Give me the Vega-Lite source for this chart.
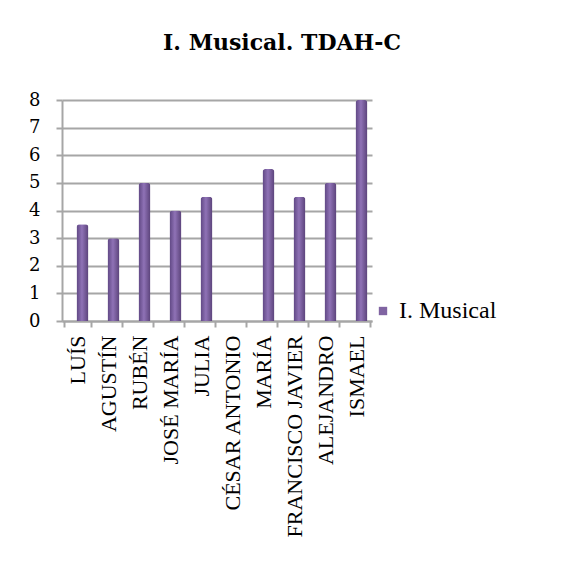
{
  "$schema": "https://vega.github.io/schema/vega-lite/v6.json",
  "width": 310,
  "height": 221,
  "autosize": {"type": "none"},
  "padding": {"left": 62, "top": 100, "right": 189, "bottom": 240},
  "background": "white",
  "title": {
    "text": "I. Musical. TDAH-C",
    "font": "DejaVu Serif",
    "fontSize": 22,
    "fontWeight": "bold",
    "color": "#000000",
    "anchor": "middle",
    "dx": 65,
    "offset": 36
  },
  "data": {
    "values": [
      {"nombre": "LUÍS", "valor": 3.5, "serie": "I. Musical"},
      {"nombre": "AGUSTÍN", "valor": 3, "serie": "I. Musical"},
      {"nombre": "RUBÉN", "valor": 5, "serie": "I. Musical"},
      {"nombre": "JOSÉ MARÍA", "valor": 4, "serie": "I. Musical"},
      {"nombre": "JULIA", "valor": 4.5, "serie": "I. Musical"},
      {"nombre": "CÉSAR ANTONIO", "valor": 0, "serie": "I. Musical"},
      {"nombre": "MARÍA", "valor": 5.5, "serie": "I. Musical"},
      {"nombre": "FRANCISCO JAVIER", "valor": 4.5, "serie": "I. Musical"},
      {"nombre": "ALEJANDRO", "valor": 5, "serie": "I. Musical"},
      {"nombre": "ISMAEL", "valor": 8, "serie": "I. Musical"}
    ]
  },
  "encoding": {
    "x": {
      "field": "nombre",
      "type": "nominal",
      "sort": null,
      "title": null,
      "axis": {
        "labelAngle": -90,
        "labelFont": "Liberation Serif",
        "labelFontSize": 22,
        "labelColor": "#000000",
        "labelPadding": 8,
        "labelLimit": 300,
        "tickBand": "extent",
        "tickSize": 6,
        "tickColor": "#a6a6a6",
        "tickWidth": 2,
        "domainColor": "#a6a6a6",
        "domainWidth": 2,
        "grid": false
      }
    },
    "y": {
      "field": "valor",
      "type": "quantitative",
      "title": null,
      "scale": {"domain": [0, 8]},
      "axis": {
        "values": [0, 1, 2, 3, 4, 5, 6, 7, 8],
        "labelFont": "DejaVu Serif",
        "labelFontSize": 18,
        "labelColor": "#000000",
        "labelPadding": 16,
        "tickSize": 6,
        "tickColor": "#a6a6a6",
        "tickWidth": 2,
        "domainColor": "#a6a6a6",
        "domainWidth": 2,
        "grid": true,
        "gridColor": "#a6a6a6",
        "gridWidth": 2
      }
    }
  },
  "layer": [
    {
      "mark": {
        "type": "bar",
        "size": 12,
        "xOffset": 5,
        "cornerRadiusTopLeft": 3,
        "cornerRadiusTopRight": 3,
        "color": {"gradient": "linear", "x1": 0, "x2": 1, "y1": 0, "y2": 0, "stops": [{"offset": 0, "color": "#5e4682"}, {"offset": 0.45, "color": "#8f72b6"}, {"offset": 1, "color": "#5a4279"}]}
      }
    },
    {
      "mark": {"type": "bar", "size": 12, "xOffset": 5, "opacity": 0},
      "encoding": {
        "color": {
          "field": "serie",
          "type": "nominal",
          "scale": {"range": ["#8064A2"]},
          "legend": {
            "title": null,
            "orient": "none",
            "legendX": 309,
            "legendY": 199,
            "symbolType": "square",
            "symbolSize": 70,
            "symbolStrokeWidth": 0,
            "symbolOpacity": 1,
            "labelFont": "Liberation Serif",
            "labelFontSize": 24,
            "labelColor": "#000000",
            "labelOffset": 4
          }
        }
      }
    }
  ],
  "config": {
    "view": {"stroke": null}
  }
}
